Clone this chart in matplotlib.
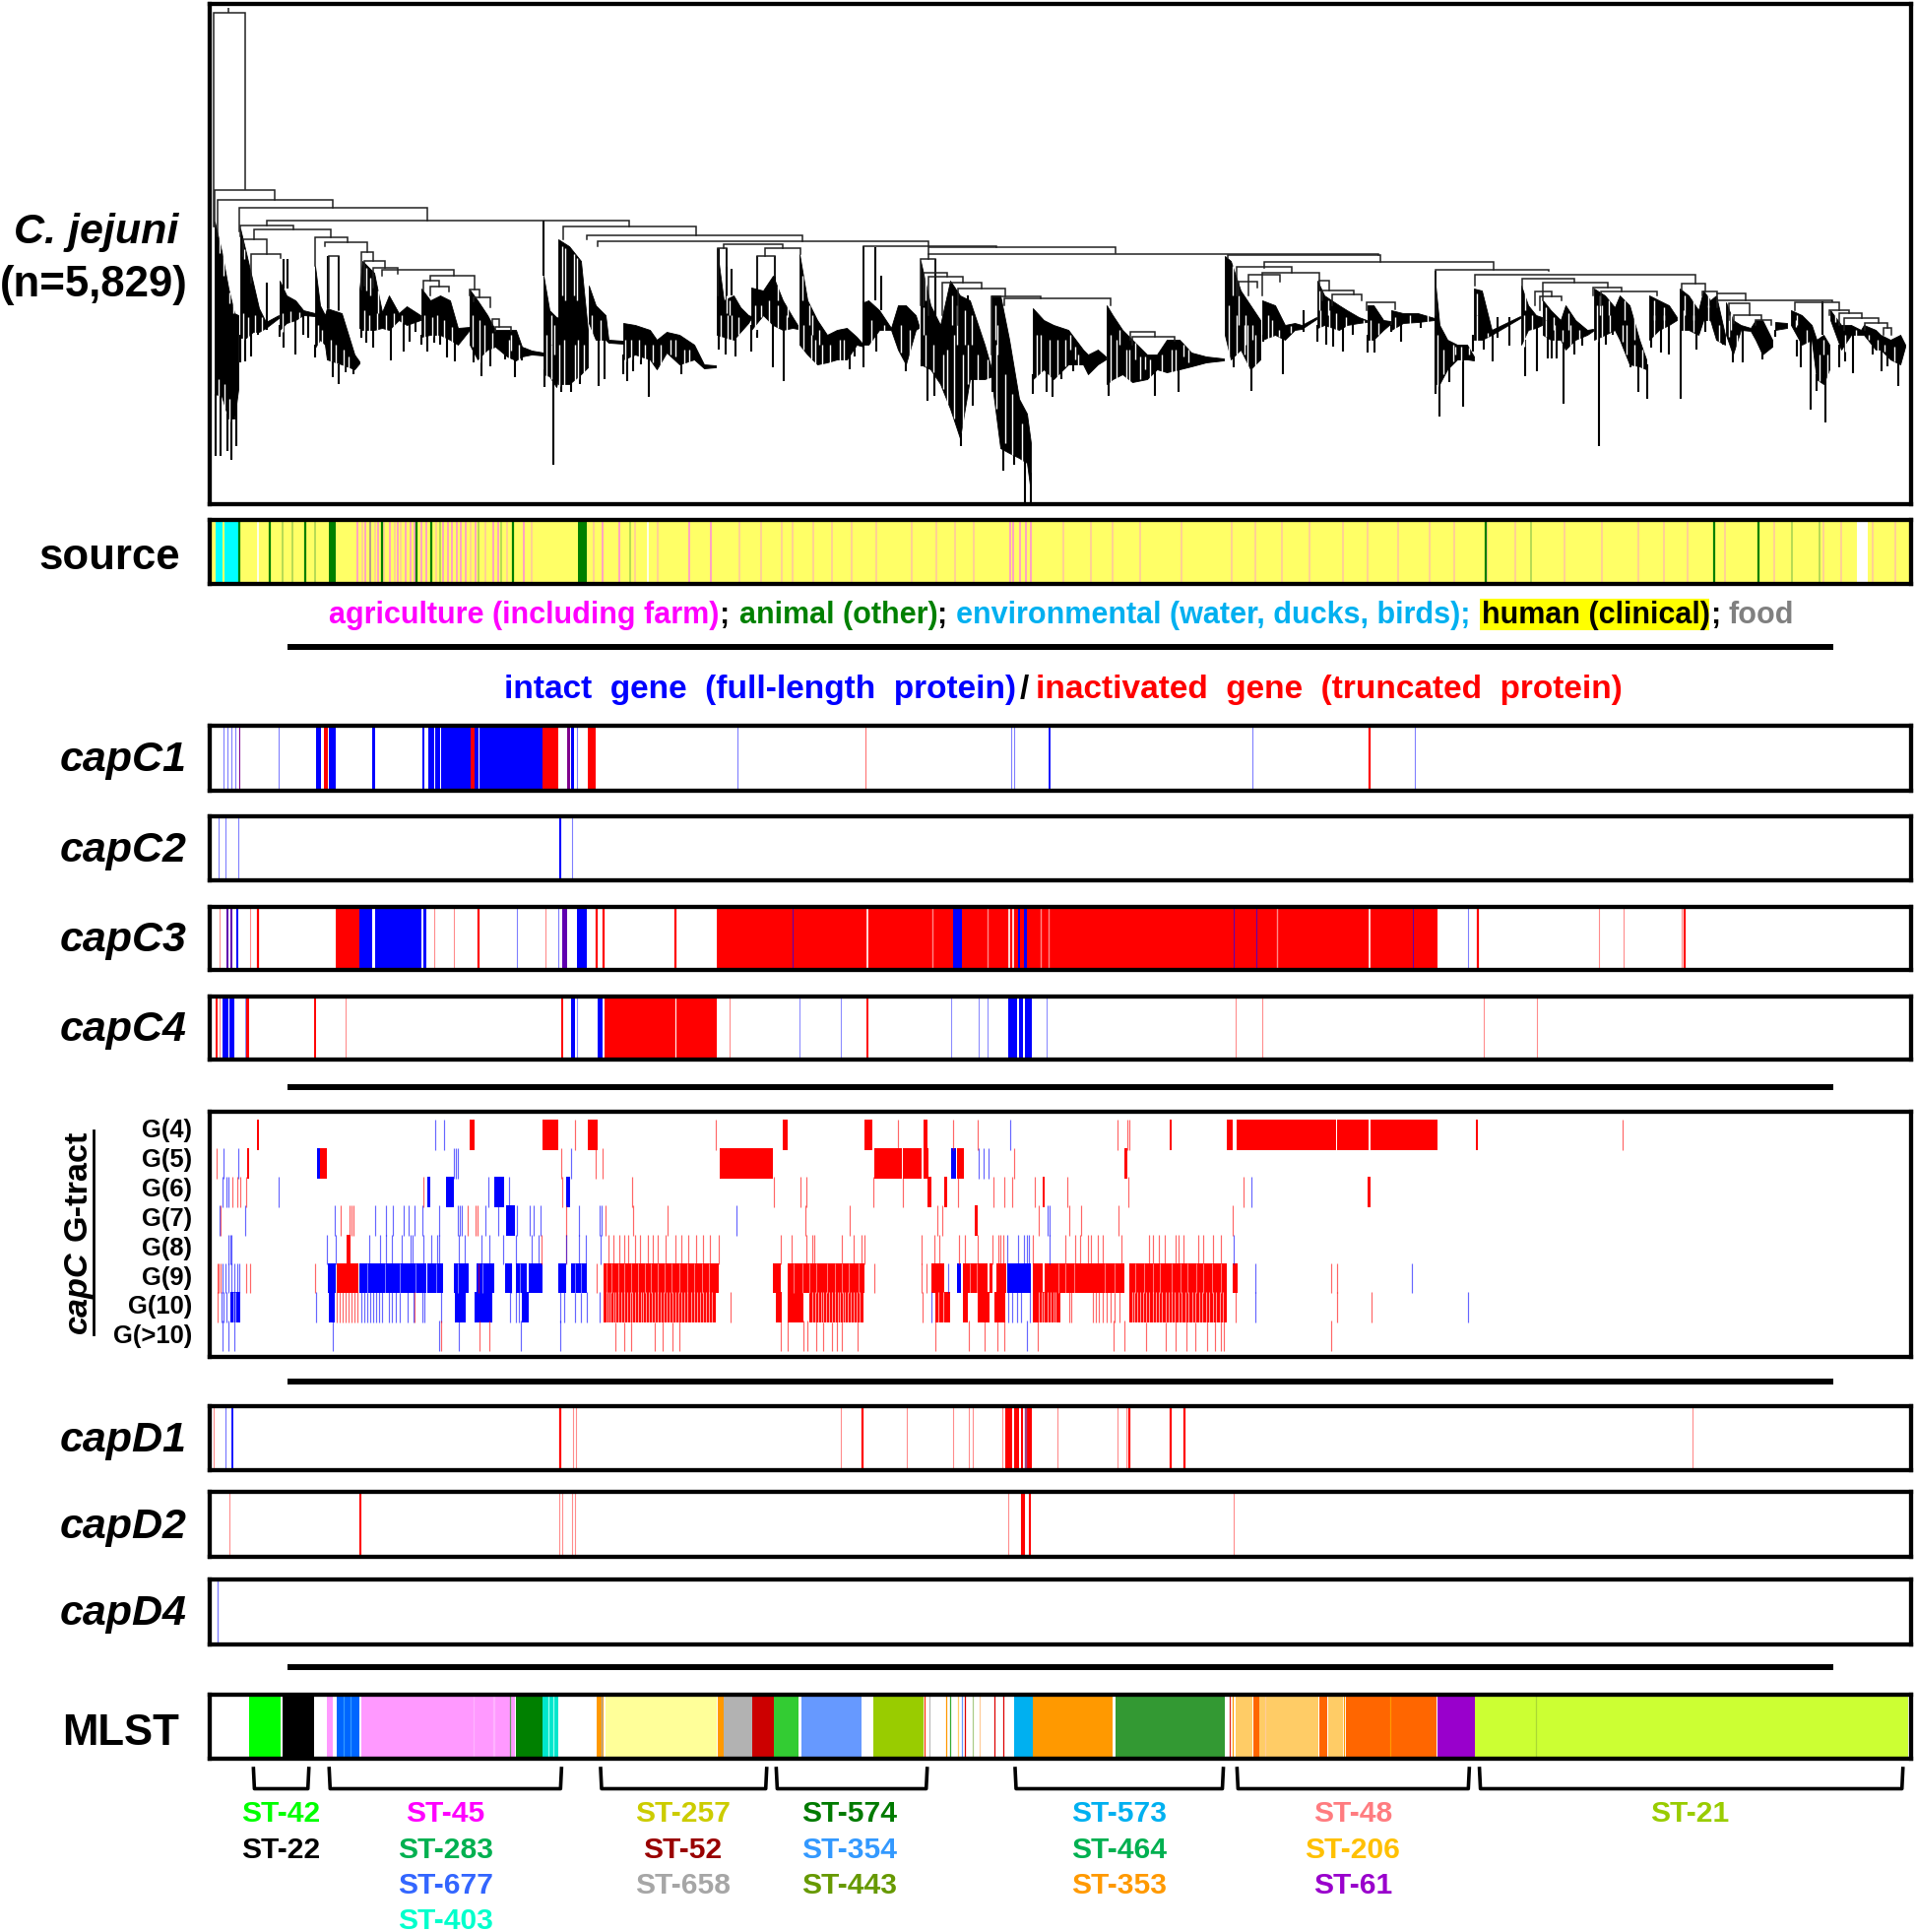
import matplotlib
matplotlib.use("Agg")
import matplotlib.pyplot as plt

plt.rcParams["font.family"] = ["Liberation Sans", "DejaVu Sans"]
plt.rcParams["font.weight"] = "bold"

W, H = 1946, 1962
X0, X1 = 213, 1941

# tree brackets: left x, right x, height, left drop end, right drop end
tree_brackets = [
    (217, 249, 13, 230, 192), (218, 279, 193, 230, 203), (221, 338, 203, 240, 211),
    (243, 434, 211, 235, 224), (271, 639, 224, 229, 230), (244, 298, 229, 240, 233),
    (258, 336, 233, 243, 241), (247, 271, 243, 260, 258), (255, 285, 258, 287, 262),
    (320, 353, 241, 270, 246), (330, 373, 246, 250, 256), (334, 344, 260, 313, 315),
    (367, 379, 256, 294, 265), (370, 391, 265, 290, 272), (379, 404, 272, 292, 278),
    (388, 461, 274, 280, 280), (437, 482, 280, 285, 294), (430, 446, 285, 295, 291),
    (437, 456, 291, 300, 296), (477, 487, 294, 300, 302), (481, 498, 302, 306, 312),
    (500, 507, 324, 330, 332), (503, 519, 332, 336, 336),
    (572, 707, 230, 243, 239), (596, 815, 239, 243, 245), (607, 943, 245, 250, 250),
    (877, 1012, 250, 305, 251), (943, 1133, 251, 258, 257), (943, 1400, 258, 263, 259),
    (735, 795, 248, 252, 252), (729, 738, 252, 300, 270), (777, 813, 252, 260, 258),
    (769, 787, 260, 292, 280), (935, 950, 263, 310, 277), (938, 962, 277, 310, 281),
    (943, 978, 281, 320, 287), (957, 997, 287, 320, 293), (973, 1021, 293, 330, 301),
    (1007, 1057, 301, 360, 303), (1020, 1128, 303, 310, 310), (1148, 1173, 337, 345, 342),
    (1150, 1193, 342, 350, 346), (1247, 1402, 259, 262, 266), (1256, 1312, 271, 300, 277),
    (1284, 1517, 266, 272, 274), (1282, 1340, 277, 300, 285), (1258, 1277, 286, 300, 292),
    (1268, 1300, 279, 300, 286), (1340, 1350, 285, 295, 295), (1343, 1375, 295, 305, 299),
    (1353, 1383, 299, 310, 305), (1388, 1417, 307, 315, 314), (1458, 1573, 274, 320, 275),
    (1498, 1722, 279, 290, 288), (1546, 1599, 283, 292, 287), (1567, 1633, 287, 305, 292),
    (1559, 1576, 296, 310, 301), (1564, 1586, 301, 315, 305), (1618, 1647, 292, 300, 296),
    (1626, 1683, 296, 310, 300), (1708, 1732, 288, 295, 296), (1729, 1744, 296, 300, 298),
    (1744, 1773, 298, 307, 305), (1744, 1861, 305, 312, 306), (1823, 1868, 307, 315, 315),
    (1858, 1878, 315, 320, 318), (1868, 1891, 318, 330, 323), (1873, 1908, 323, 335, 328),
    (1894, 1917, 328, 335, 333), (1913, 1921, 333, 340, 340), (1756, 1777, 308, 325, 320),
    (1761, 1789, 320, 328, 325), (1783, 1799, 325, 330, 330),
]

# dense parts of the tree: (x, upper edge, lower edge) read along each clade
tree_clades = [
    [(218, 225, 400), (225, 255, 402), (232, 293, 425), (238, 318, 425), (242, 320, 395)],
    [(244, 232, 343), (250, 257, 343), (257, 287, 337), (263, 313, 337), (270, 327, 333), (283, 320, 323)],
    [(284, 285, 335), (291, 300, 328), (300, 305, 325), (308, 315, 320), (320, 318, 321)],
    [(320, 270, 353), (325, 310, 345), (330, 320, 350), (332, 313, 365), (347, 318, 370), (360, 360, 375), (365, 367, 369)],
    [(365, 294, 333), (368, 265, 335), (380, 277, 335), (388, 317, 333), (395, 300, 335), (405, 318, 325), (413, 311, 330), (427, 320, 325)],
    [(428, 293, 342), (437, 305, 340), (447, 300, 340), (457, 305, 345), (465, 333, 350), (477, 332, 335)],
    [(477, 294, 350), (485, 305, 365), (495, 320, 355), (503, 335, 352), (515, 335, 362), (524, 335, 366), (530, 352, 362), (540, 356, 360), (552, 358, 361)],
    [(552, 280, 380), (558, 315, 382), (565, 322, 393), (575, 325, 350)],
    [(567, 243, 390), (578, 250, 390), (590, 265, 380), (597, 335, 373)],
    [(598, 290, 328), (605, 310, 345), (615, 320, 345), (618, 345, 348), (633, 346, 349)],
    [(633, 328, 365), (645, 330, 360), (660, 335, 365), (667, 345, 375), (677, 337, 358), (690, 340, 370), (705, 350, 365), (715, 370, 374), (727, 371, 373)],
    [(728, 252, 340), (735, 305, 342), (745, 300, 345), (752, 312, 337), (760, 320, 328), (763, 321, 323)],
    [(763, 292, 335), (775, 295, 320), (785, 280, 330), (795, 305, 335), (805, 322, 333), (810, 330, 334)],
    [(812, 258, 350), (820, 305, 360), (830, 325, 370), (840, 340, 368), (850, 335, 365), (860, 333, 365), (870, 342, 350), (877, 350, 352)],
    [(877, 307, 350), (882, 305, 350), (893, 315, 335), (905, 333, 335), (912, 310, 355), (920, 310, 370), (930, 320, 335), (933, 330, 333)],
    [(935, 265, 370), (945, 310, 375), (955, 330, 390), (965, 285, 415), (975, 300, 445), (985, 305, 385), (1000, 350, 385), (1008, 378, 382)],
    [(1007, 300, 385), (1016, 300, 455), (1025, 345, 460), (1035, 405, 465), (1043, 420, 470), (1047, 450, 500)],
    [(1049, 313, 385), (1060, 325, 375), (1070, 330, 385), (1085, 335, 370), (1100, 355, 370), (1105, 360, 380), (1115, 355, 370), (1123, 362, 365)],
    [(1124, 310, 390), (1130, 320, 385), (1140, 335, 380), (1150, 345, 388), (1165, 360, 385), (1175, 360, 375), (1185, 345, 378), (1198, 345, 375), (1210, 358, 372), (1225, 362, 368), (1243, 364, 366)],
    [(1244, 260, 340), (1250, 265, 365), (1260, 295, 355), (1270, 310, 375), (1280, 325, 365)],
    [(1282, 305, 345), (1295, 310, 340), (1305, 330, 345), (1315, 328, 335), (1322, 330, 334), (1337, 322, 324)],
    [(1338, 285, 333), (1345, 300, 330), (1360, 310, 335), (1368, 315, 330), (1380, 322, 328), (1388, 325, 327)],
    [(1389, 310, 345), (1395, 310, 345), (1405, 325, 335), (1412, 326, 329)],
    [(1413, 315, 335), (1425, 318, 328), (1440, 318, 327), (1457, 323, 325)],
    [(1458, 290, 390), (1462, 330, 390), (1470, 345, 375), (1480, 350, 365), (1490, 350, 365), (1497, 362, 366)],
    [(1497, 293, 345), (1505, 295, 345), (1515, 335, 340), (1544, 321, 323)],
    [(1545, 290, 350), (1552, 310, 335), (1560, 320, 333), (1566, 322, 330)],
    [(1567, 305, 340), (1575, 315, 345), (1585, 325, 345), (1590, 310, 355), (1600, 325, 345), (1612, 335, 340), (1618, 334, 336)],
    [(1619, 293, 345), (1630, 300, 340), (1640, 312, 335), (1645, 300, 345), (1655, 310, 370), (1665, 345, 372), (1672, 365, 375)],
    [(1675, 300, 345), (1685, 305, 335), (1695, 310, 330), (1703, 322, 325)],
    [(1706, 293, 335), (1715, 300, 335), (1725, 315, 340), (1730, 295, 325), (1737, 305, 325), (1743, 300, 345), (1752, 340, 350)],
    [(1753, 307, 340), (1760, 325, 360), (1768, 330, 335), (1778, 333, 336), (1783, 325, 345), (1790, 325, 360), (1800, 345, 352)],
    [(1803, 327, 335), (1815, 328, 333)],
    [(1819, 315, 330), (1830, 320, 350), (1840, 330, 345), (1845, 345, 385), (1852, 340, 390), (1858, 350, 375)],
    [(1859, 315, 325), (1870, 330, 355), (1880, 330, 340), (1890, 335, 340), (1893, 330, 340), (1905, 335, 355), (1910, 340, 355), (1920, 345, 365), (1930, 340, 370), (1935, 350, 352)],
]

# single stems and long tips: (x, upper end, lower end)
tree_spikes = [
    (219, 400, 463), (224, 400, 463), (231, 420, 458), (235, 420, 467), (240, 395, 453),
    (244, 340, 368), (249, 340, 367), (255, 335, 362), (262, 335, 340), (271, 287, 335),
    (284, 330, 342), (288, 325, 353), (300, 320, 360), (308, 318, 340), (313, 320, 343),
    (320, 350, 363), (338, 365, 383), (344, 370, 390), (351, 370, 378), (359, 370, 380),
    (367, 330, 343), (372, 330, 348), (379, 330, 353), (397, 330, 366), (410, 325, 357),
    (416, 325, 347), (422, 322, 337), (428, 340, 350), (434, 338, 357), (441, 338, 348),
    (447, 338, 350), (454, 343, 363), (462, 345, 367), (481, 350, 368), (489, 360, 382),
    (498, 350, 372), (513, 360, 365), (523, 360, 383), (530, 360, 366), (552, 224, 280),
    (553, 375, 393), (562, 380, 472), (570, 385, 398), (580, 385, 398), (589, 375, 390),
    (608, 340, 392), (614, 340, 385), (633, 360, 380), (637, 360, 387), (643, 355, 377),
    (651, 360, 370), (659, 360, 403), (692, 365, 380), (730, 335, 355), (737, 340, 360),
    (747, 340, 362), (763, 330, 357), (769, 335, 343), (785, 325, 373), (796, 330, 387),
    (863, 360, 375), (868, 345, 362), (877, 250, 373), (890, 330, 357), (920, 360, 377),
    (936, 365, 372), (942, 370, 407), (949, 370, 402), (976, 440, 453), (982, 380, 403),
    (988, 380, 412), (1008, 380, 398), (1019, 450, 478), (1030, 455, 472), (1041, 465, 510),
    (1047, 480, 510), (1049, 380, 400), (1063, 370, 398), (1069, 380, 403), (1078, 370, 385),
    (1090, 370, 377), (1126, 385, 402), (1173, 375, 402), (1197, 370, 398), (1253, 360, 373),
    (1271, 370, 397), (1283, 340, 347), (1303, 340, 380), (1324, 315, 337), (1338, 330, 347),
    (1347, 330, 350), (1354, 330, 352), (1364, 330, 357), (1374, 325, 340), (1389, 340, 358),
    (1396, 340, 358), (1413, 330, 337), (1423, 325, 347), (1443, 325, 333), (1458, 275, 400),
    (1462, 380, 423), (1472, 370, 388), (1486, 360, 413), (1496, 340, 357), (1507, 340, 355),
    (1516, 335, 367), (1521, 322, 343), (1533, 322, 351), (1549, 345, 382), (1561, 330, 377),
    (1572, 340, 364), (1576, 340, 364), (1581, 340, 364), (1588, 350, 410), (1599, 340, 360),
    (1607, 338, 351), (1624, 340, 453), (1631, 338, 350), (1638, 335, 340), (1656, 365, 373),
    (1664, 370, 398), (1673, 370, 405), (1677, 343, 353), (1687, 333, 358), (1695, 328, 360),
    (1707, 330, 405), (1723, 335, 355), (1732, 325, 337), (1741, 325, 335), (1750, 345, 350),
    (1760, 355, 368), (1770, 334, 368), (1790, 340, 365), (1803, 335, 342), (1825, 345, 362),
    (1829, 345, 373), (1839, 343, 416), (1845, 380, 397), (1854, 385, 429), (1851, 306, 340),
    (1868, 350, 373), (1874, 350, 367), (1882, 338, 379), (1902, 350, 360), (1911, 350, 377),
    (1917, 360, 372), (1928, 365, 392), (288, 263, 293), (292, 263, 293), (333, 260, 313),
    (344, 260, 315), (730, 252, 305), (738, 252, 305), (743, 273, 300), (769, 260, 300),
    (787, 260, 300), (889, 251, 305), (895, 280, 315), (950, 263, 330), (983, 300, 340),
    (992, 330, 385),
]

# white gaps between tips, lower part of each clade
tree_notches = [
    (221.5, 385, 402), (227.5, 390, 415), (233, 405, 428), (223, 240, 257), (227, 258, 280), (233, 297, 308), (237, 308, 318),
    (247, 318, 345), (252, 322, 345), (259, 320, 340), (266, 322, 338), (287, 318, 337), (295, 316, 330), (304, 317, 327),
    (323, 330, 355), (327, 335, 350), (336, 345, 367), (341, 350, 372), (349, 355, 380), (354, 362, 378),
    (370, 315, 337), (375, 320, 337), (383, 318, 335), (392, 320, 337), (400, 318, 335), (408, 320, 328),
    (431, 320, 345), (439, 322, 342), (444, 320, 342), (451, 325, 347), (459, 332, 350),
    (480, 320, 352), (487, 325, 368), (492, 330, 360), (500, 338, 356), (517, 345, 364), (527, 350, 368),
    (555, 340, 383), (560, 350, 385), (568, 350, 392), (573, 345, 392), (584, 350, 392), (587, 345, 385), (593, 350, 380),
    (601, 320, 347), (610, 325, 347), (635, 345, 367), (641, 345, 365), (649, 345, 365), (655, 350, 368), (663, 350, 368),
    (671, 350, 378), (681, 345, 360), (686, 345, 362), (695, 355, 372), (700, 355, 372),
    (732, 320, 345), (739, 320, 345), (743, 320, 347), (750, 322, 340), (767, 310, 337), (773, 310, 322), (781, 305, 332),
    (790, 310, 333), (799, 320, 337), (816, 330, 355), (824, 340, 365), (828, 345, 372), (835, 350, 372), (843, 350, 370),
    (853, 345, 367), (857, 345, 367), (885, 325, 352), (898, 330, 337), (915, 330, 358), (924, 335, 372),
    (940, 340, 372), (948, 350, 378), (958, 360, 395), (962, 355, 410), (969, 340, 425), (978, 360, 447), (983, 350, 390),
    (993, 360, 387), (1003, 365, 387), (1012, 350, 415), (1021, 380, 450), (1028, 400, 462), (1038, 430, 468),
    (1053, 340, 388), (1057, 340, 380), (1066, 345, 385), (1074, 345, 388), (1082, 345, 372), (1095, 360, 372),
    (1128, 340, 392), (1134, 345, 388), (1144, 355, 385), (1147, 355, 388), (1158, 362, 385), (1168, 365, 388),
    (1180, 360, 378), (1190, 355, 380), (1194, 355, 378), (1248, 310, 367), (1256, 320, 360), (1264, 330, 360),
    (1267, 330, 378), (1275, 340, 378), (1288, 320, 347), (1292, 325, 342), (1299, 335, 342), (1311, 331, 338),
    (1341, 315, 335), (1350, 315, 333), (1357, 318, 337), (1367, 322, 332), (1392, 325, 347), (1400, 328, 340),
    (1417, 322, 337), (1432, 320, 329), (1450, 320, 327), (1460, 340, 392), (1466, 355, 380), (1476, 350, 367), (1484, 352, 367),
    (1500, 320, 347), (1511, 338, 342), (1548, 320, 352), (1556, 320, 337), (1570, 325, 342), (1579, 330, 347),
    (1587, 335, 347), (1595, 330, 357), (1604, 335, 347), (1622, 310, 347), (1627, 310, 342), (1635, 320, 337),
    (1648, 330, 347), (1652, 330, 360), (1660, 350, 372), (1668, 355, 374), (1680, 320, 347), (1690, 320, 337),
    (1710, 315, 337), (1720, 320, 337), (1735, 310, 327), (1746, 330, 347), (1756, 320, 342), (1764, 340, 362),
    (1824, 325, 332), (1835, 335, 352), (1848, 360, 387), (1856, 360, 392), (1864, 318, 327), (1874, 340, 357),
    (1885, 335, 342), (1898, 340, 345), (1907, 345, 357), (1914, 350, 357), (1924, 352, 367),
]

# small open loops near the top of the clades
tree_loops = [
    (248, 253, 263), (372, 272, 295), (376, 282, 300), (384, 295, 318), (532, 340, 352), (519, 340, 356),
    (560, 320, 350), (563, 330, 360), (571, 250, 300), (574, 252, 305), (583, 258, 300), (586, 262, 305),
    (738, 300, 318), (741, 305, 320), (790, 290, 305), (800, 305, 322), (815, 280, 305), (822, 310, 330), (825, 320, 340),
    (832, 335, 350), (940, 280, 305), (938, 312, 340), (967, 300, 330), (972, 310, 350), (980, 315, 350), (987, 320, 350),
    (1011, 310, 345), (1013, 330, 360), (1252, 270, 300), (1258, 300, 330), (1265, 320, 350), (1272, 330, 345),
    (1340, 295, 315), (1349, 305, 320), (1385, 325, 330), (1500, 298, 320), (1549, 295, 315), (1570, 312, 325),
    (1578, 322, 335), (1593, 318, 335), (1625, 300, 320), (1634, 305, 320), (1650, 305, 325), (1660, 320, 345),
    (1680, 305, 325), (1690, 312, 325), (1711, 300, 320), (1720, 305, 325), (1735, 300, 312), (1758, 318, 335),
    (1825, 320, 330), (1852, 345, 360), (1048, 400, 430), (1137, 335, 350), (1153, 348, 365), (1163, 362, 375),
    (1202, 350, 362), (1207, 355, 368), (1087, 340, 355), (1092, 352, 365), (1478, 352, 360), (1492, 353, 360),
]

# source strip
source_cyan = [(219.4, 225.5), (228, 230.6), (231, 242)]
source_green_wide = [(334, 341), (587, 596)]
source_green = [243, 274, 310, 388, 423, 438, 521, 1509, 1741, 1786]
source_green_pale = [287, 297, 320, 376, 447, 486, 509, 640, 1555, 1820, 1848]
source_pink = [363, 371, 376, 384, 396, 404, 412, 417, 421, 428, 433, 450, 455, 459, 464, 468, 473,
               483, 501, 506, 532, 612, 629, 700, 722, 1026, 1029, 1036, 1042, 1047]
source_pink_faint = [368, 381, 390, 401, 407, 443, 478, 493, 515, 540, 603, 645, 668, 751, 773, 794, 805, 826, 845, 865, 890, 926, 951, 970, 989,
                     1080, 1108, 1130, 1158, 1200, 1251, 1275, 1302, 1330, 1364, 1389, 1420, 1452,
                     1477, 1510, 1539, 1589, 1627, 1664, 1690, 1714, 1752, 1802, 1852, 1870, 1902, 1925]
source_white = [262, 658]
source_white_wide = [(1886, 1897)]

# capC tracks
capC1_blue = [(321, 326), (334, 341), (377.5, 380.6), (429, 431), (435, 441), (442, 447), (448, 478), (482, 485.5), (487, 550.5), (580, 583)]
capC1_red = [(328.5, 332.6), (477.5, 482), (551, 567), (597, 604.6)]
capC1_dark = [(576, 579), (243, 244)]
capC1_blue_thin = [226.5, 230.6, 234.7, 238.8, 283, 586, 748.5, 1027, 1030, 1271.5, 1437]
capC1_blue_strong = [1066]
capC1_red_thin = [878.6]
capC1_red_strong = [1391]

capC2_blue_thin = [222, 229, 242, 580.6]
capC2_blue_strong = [569]

capC3_red = [(341, 365), (728, 1459.7)]
capC3_blue = [(240, 242), (365, 377.5), (380.6, 428), (429.6, 432.6), (586, 596.4), (968, 976.5), (1034, 1036), (1040, 1043)]
capC3_dark = [(230, 231.5), (234, 235.5), (571.4, 575.5), (804.5, 805.5), (1252.5, 1253.5), (1275.5, 1276.5), (1434.5, 1435.5)]
capC3_white = [378.5, 881, 1391, 1025, 1029]
capC3_pale_over = [947, 1003, 1057, 1065, 1297]
capC3_red_thin = [223, 253.6, 441, 461, 553.6, 1624, 1649, 1708]
capC3_red_strong = [262, 486, 605.6, 613, 686, 1501.4, 1711]
capC3_blue_thin = [524.5, 567, 1490.5]

capC4_red = [(249.5, 253), (614, 686), (686.7, 728)]
capC4_blue = [(225.5, 231.6), (232.6, 238), (580, 583.7), (606.6, 611.7), (1024, 1033), (1035, 1038.6), (1041, 1048)]
capC4_red_strong = [220.4, 320, 571, 881]
capC4_red_thin = [223, 351, 741, 1254.6, 1282, 1507, 1561]
capC4_blue_thin = [248.5, 586, 812, 854, 966, 994, 1003, 1063]

# G-tract rows, G(4) down to G(>10)
g_labels = ["G(4)", "G(5)", "G(6)", "G(7)", "G(8)", "G(9)", "G(10)", "G(>10)"]
g_red_spans = [
    [(260.7, 263), (477, 481.7), (551, 567.4), (597, 607), (795, 800), (878, 886), (938.4, 942), (1188, 1190), (1246, 1252), (1256, 1357), (1358, 1390), (1391.5, 1460), (1499, 1501)],
    [(250.5, 253), (325.4, 332), (731, 785), (888, 916), (917, 936), (938, 943), (972, 978.6), (1142.4, 1145)],
    [(941.5, 946), (959.4, 961.6), (1059, 1061), (1389, 1392)],
    [(989.7, 993)],
    [(352, 356)],
    [(342, 364.3), (612.5, 730.4), (785, 793), (800, 878), (946.4, 958.5), (977.7, 1003), (1004.5, 1007.6), (1012, 1022), (1048.7, 1059), (1061, 1141.5), (1147.3, 1246.4), (1252, 1256.7)],
    [(613, 727), (787.5, 794), (800, 815.6), (822, 877), (949.6, 965), (977.7, 983), (993.3, 1005.4), (1009.8, 1021), (1049, 1076.8), (1147.3, 1246.4)],
    [],
]
g_blue_spans = [
    [],
    [(322, 325.4), (966, 971.4)],
    [(433.5, 437), (452.7, 460.7), (501.8, 512), (575.4, 579)],
    [(514, 523)],
    [],
    [(333, 341), (364.7, 423), (423, 432.6), (434, 450.4), (460.7, 476), (484, 501.8), (513, 519.6), (524, 535), (537, 551), (567.4, 574.5), (580, 595.5), (972, 976), (1023, 1047)],
    [(234, 243.8), (333.5, 340), (461.6, 472.8), (481.7, 499.6), (529.5, 536.6)],
    [],
]
g_red_lines = [
    [583.5, 727, 911.6, 968, 993, 1135, 1145, 1147, 1648],
    [219.6, 570, 605, 612, 1030],
    [236, 240.6, 243.8, 249.6, 430, 571, 642, 786, 812.5, 819, 887, 917, 972.8, 1009, 1020, 1027.7, 1051, 1083.5, 1146, 1263],
    [224, 345.5, 355, 357, 359, 475, 483, 485, 574.5, 615, 643, 678, 818, 863, 952, 957, 1054.5, 1085.7, 1097.8, 1135.7, 1252],
    [574.5, 617.9, 623, 629, 634, 638, 644.6, 650, 658, 663.4, 668, 676, 685.7, 691.5, 699, 707, 714, 720.5, 729.5, 793, 803.6, 818.8, 824.6, 826.8, 854.5, 867, 874.6, 878, 936, 948.7, 954, 974, 979.5, 993, 1007.6, 1014, 1016, 1018.8, 1049, 1082, 1092.4, 1097, 1104.5, 1108, 1114.7, 1119.6, 1139, 1167.4, 1171.4, 1177, 1182.6, 1193.7, 1197, 1201.8, 1216.5, 1222, 1231.7, 1239.7, 550],
    [220.5, 222, 224, 249.6, 254, 319.6, 486, 605.8, 887.5, 936, 940.6, 1352, 1357.6],
    [221.4, 342, 345, 348, 351, 354, 357, 360, 363, 421.4, 741.5, 937, 1086, 1088, 1110, 1113, 1116, 1120, 1124, 1128, 1132, 1137, 1254.5, 1357.6, 1393],
    [448, 486.6, 497.3, 625.4, 633.5, 641, 664.7, 672.8, 682.6, 690, 793, 800, 815.6, 820, 829, 835.7, 844.6, 850.4, 855, 871.4, 949.6, 984.4, 999.6, 1013.4, 1020, 1053.6, 1131, 1141.5, 1164.3, 1184, 1194, 1205, 1213.8, 1226, 1234, 1239.7, 1243.3, 1352],
]
g_blue_lines = [
    [442, 451.3, 1026],
    [227, 242, 461, 463, 465, 580, 994, 998.6, 1004],
    [226, 229.5, 232, 283, 496.4, 517.4, 1271],
    [222.8, 248.7, 340, 381, 392, 399, 410, 414.7, 420.5, 429, 446, 465, 467, 469, 493, 506, 525, 537.5, 542, 548.7, 588, 609, 611, 748, 1064, 1066],
    [232, 234, 235, 332, 341, 375.4, 385.7, 392, 398, 408, 417, 419, 430, 438.4, 444, 446, 466, 472, 489, 497, 510.7, 524, 539.7, 547, 574.5, 588, 594.6, 610, 1023, 1034, 1039.7, 1043, 1044.6, 1065.6, 1252.7],
    [226, 229, 232, 235, 238, 241, 243, 519, 963, 1275.4, 1434],
    [225, 227, 230, 321, 367, 370, 373, 376, 379, 382, 385, 388, 395, 398, 402, 406, 414, 420, 429, 431, 448, 518, 524, 527, 568.7, 573, 584.4, 590, 596.4, 609, 946.4, 1024, 1028, 1033, 1037, 1046, 1275.4, 1490.6],
    [226.3, 231.7, 238.4, 337.5, 446, 466, 528.6, 568.7, 1043.3],
]
g9_white = [373, 391, 406, 422, 443, 465, 490, 528, 575, 584, 590,
            616, 621, 628, 634, 641, 648, 655, 661, 668, 675, 682, 690, 698, 705, 713, 720,
            806, 815, 822, 829, 840, 848, 855, 862, 872, 985, 992, 1075, 1082, 1091, 1122, 1132,
            1153, 1162, 1171, 1178, 1190, 1199, 1206, 1215, 1222, 1231, 1240]
g10_white = [237, 239, 616, 618, 620, 623, 625, 628, 631, 634, 637, 640, 642, 645, 648, 651, 653, 656, 659, 662, 665, 668, 671, 674, 677, 680, 683, 686, 689, 692, 695, 698, 702, 705, 708, 711, 714, 717, 720, 723,
             825, 828, 831, 834, 836, 839, 842, 845, 848, 851, 853, 856, 858, 861, 864, 867, 870, 873, 953, 958, 1055, 1058, 1060, 1064, 1067, 1070, 1072,
             1150, 1152, 1155, 1158, 1161, 1164, 1167, 1171, 1174, 1177, 1180, 1184, 1187, 1190, 1193, 1197, 1200, 1204, 1207, 1211, 1214, 1218, 1221, 1225, 1228, 1232, 1235, 1239, 1242]

# capD tracks
capD1_red = [(1020.5, 1027.8), (1030, 1035), (1036.5, 1039), (1043.4, 1048.3)]
capD1_dark = [1040.5, 1042]
capD1_red_strong = [569, 876, 1146.5, 1188.8, 1203.3]
capD1_red_thin = [217, 581.7, 585, 854.4, 921, 967.5, 983.6, 988, 1018, 1073.6, 1135, 1144, 1718.6]
capD1_blue_thin = [228.7]
capD1_blue_strong = [235.6]

capD2_red_strong = [366, 1038, 1040, 1046]
capD2_red_thin = [232.7, 568, 571.4, 581, 584, 1023.8, 1253.4]
capD4_blue_thin = [220.7]

# MLST strip
mlst_spans = [(253.4, 285), (286.7, 318.8), (332, 338), (341.8, 364.8), (366.5, 523), (523.8, 551.3), (551.3, 567.4),
              (606, 613), (614.5, 728), (729, 735), (735, 764.3), (764.3, 785.5), (786, 811.4), (814.2, 874.5),
              (887, 937.7), (1030, 1049), (1049, 1130), (1132.7, 1244.3), (1255, 1271.5), (1272.7, 1278.7),
              (1279.3, 1339), (1339.7, 1348), (1348.7, 1363.8), (1367.4, 1459), (1459.7, 1497.7), (1497.7, 1938)]
mlst_colors = ["#00FF00", "#000000", "#FF99FF", "#0066FF", "#FF99FF", "#008000", "#00E6CC",
               "#FF9900", "#FFFF99", "#FF9900", "#B2B2B2", "#CC0000", "#33CC33", "#6699FF",
               "#99CC00", "#00B0F0", "#FF9900", "#339933", "#FFCC66", "#FF6600",
               "#FFCC66", "#FF6600", "#FFCC66", "#FF6600", "#9900CC", "#CCFF33"]
mlst_line_x = [349, 356, 481, 501, 502, 518, 557, 562, 611, 938.8, 944, 961, 965, 973, 977, 980, 988, 995, 1010, 1019, 1249, 1252, 1285, 1365, 1412, 1560]
mlst_line_colors = ["#3399FF", "#3399FF", "#FFB3FF", "#FFB3FF", "#FFB3FF", "#669966", "#99FFEE", "#99FFEE", "#AAAAAA", "#FF3300", "#BBBBBB", "#FF9900", "#33AA33", "#FFCC66",
                    "#6699FF", "#DD0000", "#AACC88", "#FFCC99", "#DD0000", "#DD0000", "#DD2222", "#FF9900", "#FFCC99", "#FF9900", "#FF9900", "#AAD933"]

# brackets and labels under MLST
bracket_x1 = [257.4, 334.3, 610, 788.4, 1031, 1256.4, 1502.6]
bracket_x2 = [313.7, 570.3, 778.7, 941.7, 1242.5, 1492.3, 1932.7]
st_center = [285, 452.6, 693.7, 863, 1137, 1374, 1716]
st_names = [["ST-42", "ST-22"], ["ST-45", "ST-283", "ST-677", "ST-403"], ["ST-257", "ST-52", "ST-658"],
            ["ST-574", "ST-354", "ST-443"], ["ST-573", "ST-464", "ST-353"], ["ST-48", "ST-206", "ST-61"], ["ST-21"]]
st_colors = [["#00FF00", "#000000"], ["#FF00FF", "#00B050", "#3366FF", "#00FFCC"], ["#CCCC00", "#990000", "#A6A6A6"],
             ["#007A00", "#3399FF", "#669900"], ["#00B0F0", "#00B050", "#FF9900"], ["#FF7C80", "#FFC000", "#9900CC"], ["#99CC00"]]
st_rows = [1842, 1878.6, 1915, 1951]
separator_y = [657, 1104, 1403, 1693]

BLUE, RED = "#0000FF", "#FF0000"
THICK = 3.1


def panel(top, bottom):
    ax = fig.add_axes([X0 / W, 1 - bottom / H, (X1 - X0) / W, (bottom - top) / H])
    ax.set_xlim(X0, X1)
    ax.set_ylim(0, 1)
    ax.set_xticks([])
    ax.set_yticks([])
    for s in ax.spines.values():
        s.set_linewidth(THICK)
        s.set_capstyle("projecting")
    return ax


def spans(ax, items, color):
    for a, b in items:
        ax.axvspan(a, b, color=color, lw=0)


def lines(ax, xs, color, alpha=1.0, lw=0.8):
    if xs:
        ax.vlines(xs, 0, 1, color=color, alpha=alpha, lw=lw)


def fig_text(x, y, s, **kw):
    kw.setdefault("va", "center")
    kw.setdefault("ha", "center")
    return fig.text(x / W, 1 - y / H, s, **kw)


def side_label(y, s):
    fig_text(190, y + 5, s, ha="right", fontsize=31, style="italic")


fig = plt.figure(figsize=(W / 100, H / 100), dpi=100)

# tree
ax = panel(4, 512)
ax.set_ylim(512, 4)
for c in tree_clades:
    ax.fill_between([p[0] for p in c], [p[1] for p in c], [p[2] for p in c], color="black", lw=0.6)
ax.vlines([s[0] for s in tree_spikes], [s[1] for s in tree_spikes], [s[2] for s in tree_spikes], color="black", lw=1.5)
ax.vlines([s[0] for s in tree_notches], [s[1] for s in tree_notches], [s[2] for s in tree_notches], color="white", lw=1.0)
ax.vlines([s[0] for s in tree_loops], [s[1] for s in tree_loops], [s[2] for s in tree_loops], color="white", lw=1.0)
for x1, x2, y, d1, d2 in tree_brackets:
    ax.plot([x1, x1, x2, x2], [d1, y, y, d2], color="#222222", lw=1.1, solid_joinstyle="miter")
ax.vlines([232], [8], [13], color="#222222", lw=1.1)
fig_text(98, 236, "C. jejuni", fontsize=31, style="italic")
fig_text(95, 289, "(n=5,829)", fontsize=31.5)

# source
ax = panel(528, 593)
ax.set_facecolor("#FFFF66")
spans(ax, source_cyan, "#00FFFF")
spans(ax, source_white_wide, "white")
lines(ax, source_pink, "#FF66FF", 0.7, 1.2)
lines(ax, source_pink_faint, "#FF66FF", 0.35, 1.2)
lines(ax, source_green_pale, "#339933", 0.45, 1.1)
lines(ax, source_green, "#008000", 1, 1.6)
lines(ax, source_white, "white", 1, 1.2)
spans(ax, source_green_wide, "#008000")
fig_text(111, 566, "source", fontsize=31.5)

# source legend
fig.patches.append(plt.Rectangle((1503 / W, 1 - 640 / H), 233 / W, 32 / H, transform=fig.transFigure, color="#FFFF00", lw=0))
legend_x = [334, 729.6, 751, 951, 971, 1505, 1737, 1756]
legend_s = ["agriculture (including farm)", ";", "animal (other)", ";", "environmental (water, ducks, birds);", "human (clinical)", ";", "food"]
legend_c = ["#FF00FF", "black", "#008000", "black", "#00B0F0", "black", "black", "#808080"]
for x, s, c in zip(legend_x, legend_s, legend_c):
    fig_text(x, 625, s, ha="left", color=c, fontsize=22)

# intact / inactivated legend
fig_text(512, 700, "intact  gene  (full-length  protein)", ha="left", color=BLUE, fontsize=24)
fig_text(1040, 700, "/", color="black", fontsize=24)
fig_text(1052, 700, "inactivated  gene  (truncated  protein)", ha="left", color=RED, fontsize=24)

for y in separator_y:
    fig.add_artist(plt.Line2D([292 / W, 1862 / W], [1 - y / H, 1 - y / H], color="black", lw=4.3, solid_capstyle="butt"))

# capC
ax = panel(737, 803)
spans(ax, capC1_blue, BLUE)
spans(ax, capC1_red, RED)
spans(ax, capC1_dark, "#80008C")
lines(ax, capC1_blue_thin, BLUE, 0.5)
lines(ax, capC1_blue_strong, BLUE, 1, 1.3)
lines(ax, capC1_red_thin, RED, 0.55)
lines(ax, capC1_red_strong, RED, 1, 1.6)
side_label(767, "capC1")

ax = panel(829, 894)
lines(ax, capC2_blue_thin, BLUE, 0.5)
lines(ax, capC2_blue_strong, BLUE, 1, 1.5)
side_label(859, "capC2")

ax = panel(921, 985)
spans(ax, capC3_red, RED)
spans(ax, capC3_blue, BLUE)
spans(ax, capC3_dark, "#6000B0")
lines(ax, capC3_white, "white", 1, 1.2)
lines(ax, capC3_pale_over, "#FF8888", 1, 1)
lines(ax, capC3_red_thin, RED, 0.45)
lines(ax, capC3_red_strong, RED, 1, 1.6)
lines(ax, capC3_blue_thin, BLUE, 0.5)
side_label(950, "capC3")

ax = panel(1012, 1076)
spans(ax, capC4_red, RED)
spans(ax, capC4_blue, BLUE)
lines(ax, capC4_red_strong, RED, 1, 1.4)
lines(ax, capC4_red_thin, RED, 0.45)
lines(ax, capC4_blue_thin, BLUE, 0.45)
side_label(1041, "capC4")

# G-tract matrix
ax = panel(1129, 1378)
ax.set_ylim(8.28, -0.28)
row_h = 1.06
for i in range(8):
    for a, b in g_blue_spans[i]:
        ax.fill_between([a, b], i, i + row_h, color=BLUE, lw=0)
    for a, b in g_red_spans[i]:
        ax.fill_between([a, b], i, i + row_h, color=RED, lw=0)
    if g_red_lines[i]:
        ax.vlines(g_red_lines[i], i, i + row_h, color=RED, alpha=0.6, lw=0.85)
    if g_blue_lines[i]:
        ax.vlines(g_blue_lines[i], i, i + row_h, color=BLUE, alpha=0.6, lw=0.85)
    fig_text(195, 1148.5 + 29.8 * i, g_labels[i], ha="right", fontsize=18.4)
ax.vlines(g9_white, 5, 5 + row_h, color="white", alpha=0.6, lw=0.55)
ax.vlines(g10_white, 6, 6 + row_h, color="white", alpha=0.6, lw=0.8)
fig.text(79 / W, 1 - 1354 / H, "capC", rotation=90, style="italic", fontsize=24.7, ha="center", va="bottom", rotation_mode="default")
fig.text(79 / W, 1 - 1260 / H, "G-tract", rotation=90, fontsize=24.7, ha="center", va="bottom", rotation_mode="default")
fig.add_artist(plt.Line2D([95 / W, 95 / W], [1 - 1148 / H, 1 - 1355 / H], color="black", lw=2))

# capD
ax = panel(1428, 1493)
spans(ax, capD1_red, RED)
lines(ax, capD1_dark, "#A04080", 1, 1)
lines(ax, capD1_red_strong, RED, 1, 1.6)
lines(ax, capD1_red_thin, RED, 0.45)
lines(ax, capD1_blue_thin, BLUE, 0.55)
lines(ax, capD1_blue_strong, BLUE, 1, 1.3)
side_label(1458, "capD1")

ax = panel(1515, 1581)
lines(ax, capD2_red_strong, RED, 1, 1.5)
lines(ax, capD2_red_thin, RED, 0.45)
side_label(1546, "capD2")

ax = panel(1604, 1670)
lines(ax, capD4_blue_thin, BLUE, 0.5, 1)
side_label(1634, "capD4")

# MLST
ax = panel(1721, 1786)
for (a, b), c in zip(mlst_spans, mlst_colors):
    ax.axvspan(a, b, color=c, lw=0)
ax.vlines(mlst_line_x, 0, 1, colors=mlst_line_colors, lw=0.9)
fig_text(122.6, 1761, "MLST", fontsize=31.5)

for x1, x2 in zip(bracket_x1, bracket_x2):
    xs = [x1 / W, (x1 + 1) / W, (x2 - 1) / W, x2 / W]
    ys = [1 - 1796 / H, 1 - 1816.5 / H, 1 - 1816.5 / H, 1 - 1796 / H]
    fig.add_artist(plt.Line2D(xs, ys, color="black", lw=2.6, solid_joinstyle="round"))

for cx, names, colors in zip(st_center, st_names, st_colors):
    for name, c, y in zip(names, colors, st_rows):
        fig_text(cx, y, name, color=c, fontsize=21.6)

fig.savefig("out.png", dpi=100, facecolor="white")
